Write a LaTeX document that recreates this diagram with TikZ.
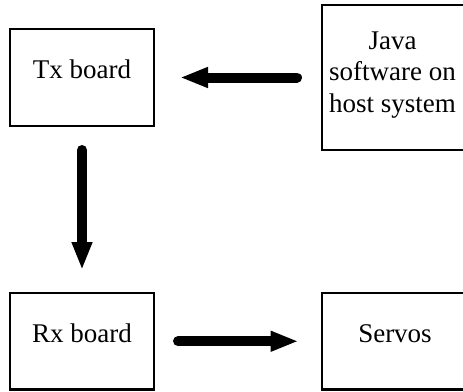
\documentclass[tikz,border=0pt]{standalone}
\usepackage{fontspec}
\setmainfont{Liberation Serif}
\usetikzlibrary{arrows.meta}
\begin{document}
\begin{tikzpicture}[x=1pt,y=-1pt,
  boxnode/.style={draw,line width=2.2pt,inner sep=0pt,outer sep=0pt,rectangle},
  txt/.style={inner sep=0pt,font=\fontsize{27}{31.5}\selectfont,anchor=base},
  bigarr/.style={line width=10pt,line cap=round,-{Triangle[length=28pt,width=19pt]}}]
\useasboundingbox (0,0) rectangle (463,391);
\clip (0,0) rectangle (463,391);
\fill[white] (0,0) rectangle (463,391);
\node[boxnode,minimum width=144pt,minimum height=97pt] (tx) at (82,77.5) {};
\node[boxnode,minimum width=160pt,minimum height=145pt] (java) at (402,77.5) {};
\node[boxnode,minimum width=144pt,minimum height=96.5pt] (rx) at (82,341.25) {};
\node[boxnode,minimum width=160pt,minimum height=96.5pt] (servos) at (402,341.25) {};
\node[txt] (txt1) at (82,78) {Tx board};
\node[txt,align=center] (txt2) at (392.5,112) {Java\\software on\\host system};
\node[txt] (txt3) at (82,342) {Rx board};
\node[txt] (txt4) at (395,342) {Servos};
\draw[bigarr,shorten <=25pt,shorten >=26pt] (java.west) -- (tx.east);
\draw[bigarr,shorten <=24pt,shorten >=23pt] (tx.south) -- (rx.north);
\draw[bigarr,shorten <=24pt,shorten >=23.5pt] (rx.east) -- (servos.west);
\end{tikzpicture}
\end{document}
